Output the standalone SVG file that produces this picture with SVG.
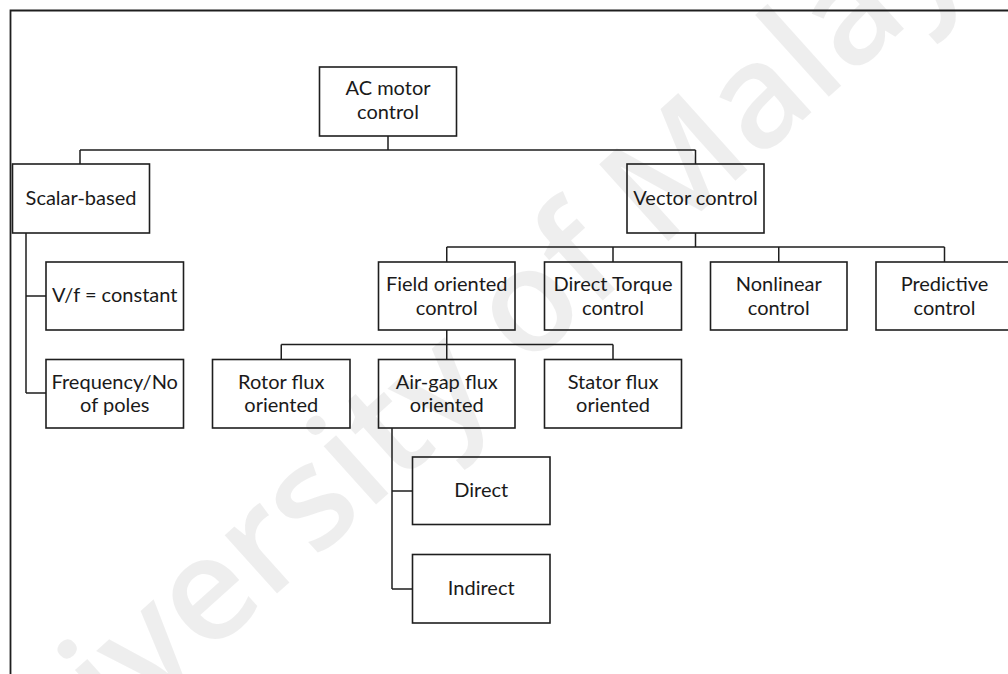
<svg xmlns="http://www.w3.org/2000/svg" width="1008" height="674" viewBox="0 0 1008 674">
  <style>
    .frame { fill: none; stroke: #1e1e1e; stroke-width: 1.8; }
    .box { fill: none; stroke: #1e1e1e; stroke-width: 1.6; }
    .wire { fill: none; stroke: #1e1e1e; stroke-width: 1.5; }
    .lbl { font-family: Lato, "Open Sans", "Liberation Sans", sans-serif; font-size: 20px; fill: #1a1a1a; text-anchor: middle; }
    .mark { font-family: "Open Sans", "Liberation Sans", sans-serif; font-size: 145px; font-weight: 600; fill: #000; fill-opacity: 0.065; }
  </style>

  <rect width="1008" height="674" fill="#fff"/>

  <!-- faint background lettering -->
  <text class="mark" transform="translate(-30,870) rotate(-42)">University of Malaya</text>

  <!-- page frame (top and left edges) -->
  <path class="frame" d="M10.5,674 V10.5 H1008"/>

  <!-- connectors -->
  <g id="connectors">
    <path class="wire" d="M388,136 V150 M80,150 H695.5 M80,150 V164 M695.5,150 V164"/>
    <path class="wire" d="M26,233 V393 M26,296 H46 M26,393 H46"/>
    <path class="wire" d="M695.5,233 V247 M446.75,247 H944.5 M446.75,247 V262 M613,247 V262 M778.75,247 V262 M944.5,247 V262"/>
    <path class="wire" d="M446.75,330 V344.5 M281.25,344.5 H613 M281.25,344.5 V359.5 M446.75,344.5 V359.5 M613,344.5 V359.5"/>
    <path class="wire" d="M392,428 V589 M392,491 H412.5 M392,589 H412.5"/>
  </g>

  <g id="ac-motor-control">
    <rect class="box" x="319.5" y="67" width="137" height="69"/>
    <text class="lbl" x="388" y="95">AC motor</text>
    <text class="lbl" x="388" y="119">control</text>
  </g>

  <g id="scalar-based">
    <rect class="box" x="12.5" y="164" width="137" height="69"/>
    <text class="lbl" x="81" y="204.5">Scalar-based</text>
  </g>

  <g id="vector-control">
    <rect class="box" x="627" y="164" width="137" height="69"/>
    <text class="lbl" x="695.5" y="204.5">Vector control</text>
  </g>

  <g id="vf-constant">
    <rect class="box" x="46" y="262" width="137.5" height="68"/>
    <text class="lbl" x="114.75" y="302">V/f = constant</text>
  </g>

  <g id="frequency-poles">
    <rect class="box" x="46" y="359.5" width="137.5" height="68.5"/>
    <text class="lbl" x="114.75" y="388.5">Frequency/No</text>
    <text class="lbl" x="114.75" y="412">of poles</text>
  </g>

  <g id="field-oriented-control">
    <rect class="box" x="378.5" y="262" width="136.5" height="68"/>
    <text class="lbl" x="446.75" y="291">Field oriented</text>
    <text class="lbl" x="446.75" y="314.5">control</text>
  </g>

  <g id="direct-torque-control">
    <rect class="box" x="544.5" y="262" width="137" height="68"/>
    <text class="lbl" x="613" y="291">Direct Torque</text>
    <text class="lbl" x="613" y="314.5">control</text>
  </g>

  <g id="nonlinear-control">
    <rect class="box" x="710.5" y="262" width="136.5" height="68"/>
    <text class="lbl" x="778.75" y="291">Nonlinear</text>
    <text class="lbl" x="778.75" y="314.5">control</text>
  </g>

  <g id="predictive-control">
    <rect class="box" x="876" y="262" width="137" height="68"/>
    <text class="lbl" x="944.5" y="291">Predictive</text>
    <text class="lbl" x="944.5" y="314.5">control</text>
  </g>

  <g id="rotor-flux-oriented">
    <rect class="box" x="212.5" y="359.5" width="137.5" height="68.5"/>
    <text class="lbl" x="281.25" y="388.5">Rotor flux</text>
    <text class="lbl" x="281.25" y="412">oriented</text>
  </g>

  <g id="air-gap-flux-oriented">
    <rect class="box" x="378.5" y="359.5" width="136.5" height="68.5"/>
    <text class="lbl" x="446.75" y="388.5">Air-gap flux</text>
    <text class="lbl" x="446.75" y="412">oriented</text>
  </g>

  <g id="stator-flux-oriented">
    <rect class="box" x="544.5" y="359.5" width="137" height="68.5"/>
    <text class="lbl" x="613" y="388.5">Stator flux</text>
    <text class="lbl" x="613" y="412">oriented</text>
  </g>

  <g id="direct">
    <rect class="box" x="412.5" y="457" width="137.5" height="67.5"/>
    <text class="lbl" x="481.25" y="497">Direct</text>
  </g>

  <g id="indirect">
    <rect class="box" x="412.5" y="554.5" width="137.5" height="68.5"/>
    <text class="lbl" x="481.25" y="595">Indirect</text>
  </g>
</svg>
